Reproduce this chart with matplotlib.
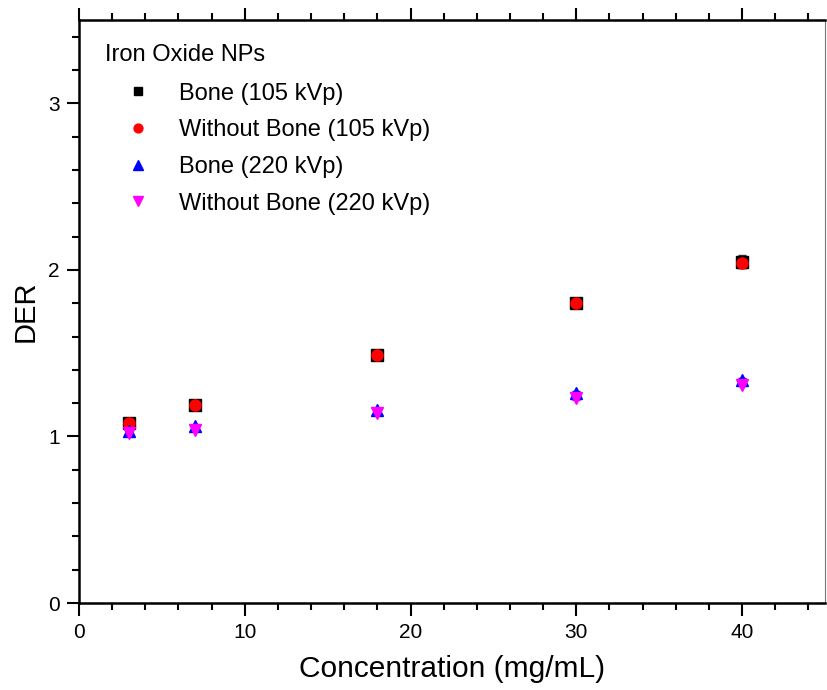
import matplotlib.pyplot as plt
from matplotlib.ticker import MultipleLocator

plt.rcParams['font.family'] = ['Liberation Sans', 'DejaVu Sans']

# data
conc = [3, 7, 18, 30, 40]
bone_105 = [1.08, 1.19, 1.49, 1.80, 2.05]
bone_105_err = [0.02, 0.02, 0.02, 0.03, 0.04]
nobone_105 = [1.08, 1.19, 1.49, 1.80, 2.04]
nobone_105_err = [0.02, 0.02, 0.02, 0.02, 0.03]
bone_220 = [1.03, 1.06, 1.16, 1.26, 1.34]
bone_220_err = [0.01, 0.01, 0.01, 0.01, 0.01]
nobone_220 = [1.02, 1.04, 1.14, 1.23, 1.31]
nobone_220_err = [0.01, 0.01, 0.01, 0.01, 0.01]

fig = plt.figure(figsize=(8.27, 6.9), dpi=100)
ax = fig.add_axes([0.0955, 0.126, 0.902, 0.845])

e1 = ax.errorbar(conc, bone_105, yerr=bone_105_err, fmt='s', color='black', ms=8,
                 capsize=3, elinewidth=1, ecolor='#333333')
e2 = ax.errorbar(conc, nobone_105, yerr=nobone_105_err, fmt='o', color='red', ms=8,
                 capsize=3, elinewidth=1, ecolor='#333333')
e3 = ax.errorbar(conc, bone_220, yerr=bone_220_err, fmt='^', color='blue', ms=9,
                 capsize=3, elinewidth=1)
e4 = ax.errorbar(conc, nobone_220, yerr=nobone_220_err, fmt='v', color='magenta', ms=9,
                 capsize=3, elinewidth=1)

ax.set_xlim(0, 45)
ax.set_ylim(0, 3.5)
ax.xaxis.set_major_locator(MultipleLocator(10))
ax.xaxis.set_minor_locator(MultipleLocator(2))
ax.yaxis.set_major_locator(MultipleLocator(1))
ax.yaxis.set_minor_locator(MultipleLocator(0.2))

ax.tick_params(which='both', direction='out', top=True, right=False, labelsize=15, width=1.5)
ax.tick_params(which='major', length=9, pad=5)
ax.tick_params(which='minor', length=5)
for s in ['left', 'bottom', 'top']:
    ax.spines[s].set_linewidth(1.8)
ax.spines['right'].set_linewidth(0.8)
ax.spines['right'].set_color('#777777')

ax.set_xlabel('Concentration (mg/mL)', fontsize=21.5, labelpad=10)
ax.set_ylabel('DER', fontsize=21, labelpad=6)

labels = ['Bone (105 kVp)', 'Without Bone (105 kVp)', 'Bone (220 kVp)', 'Without Bone (220 kVp)']
leg = ax.legend([e1[0], e2[0], e3[0], e4[0]], labels, title='Iron Oxide NPs',
                loc='upper left', bbox_to_anchor=(0.022, 0.975), frameon=False,
                fontsize=17, title_fontsize=17, handlelength=2.8, handletextpad=0.34,
                borderaxespad=0, labelspacing=0.62, markerscale=0.8)
leg._legend_box.align = 'left'
leg._legend_box.sep = 12

fig.savefig('out.png', dpi=100)
